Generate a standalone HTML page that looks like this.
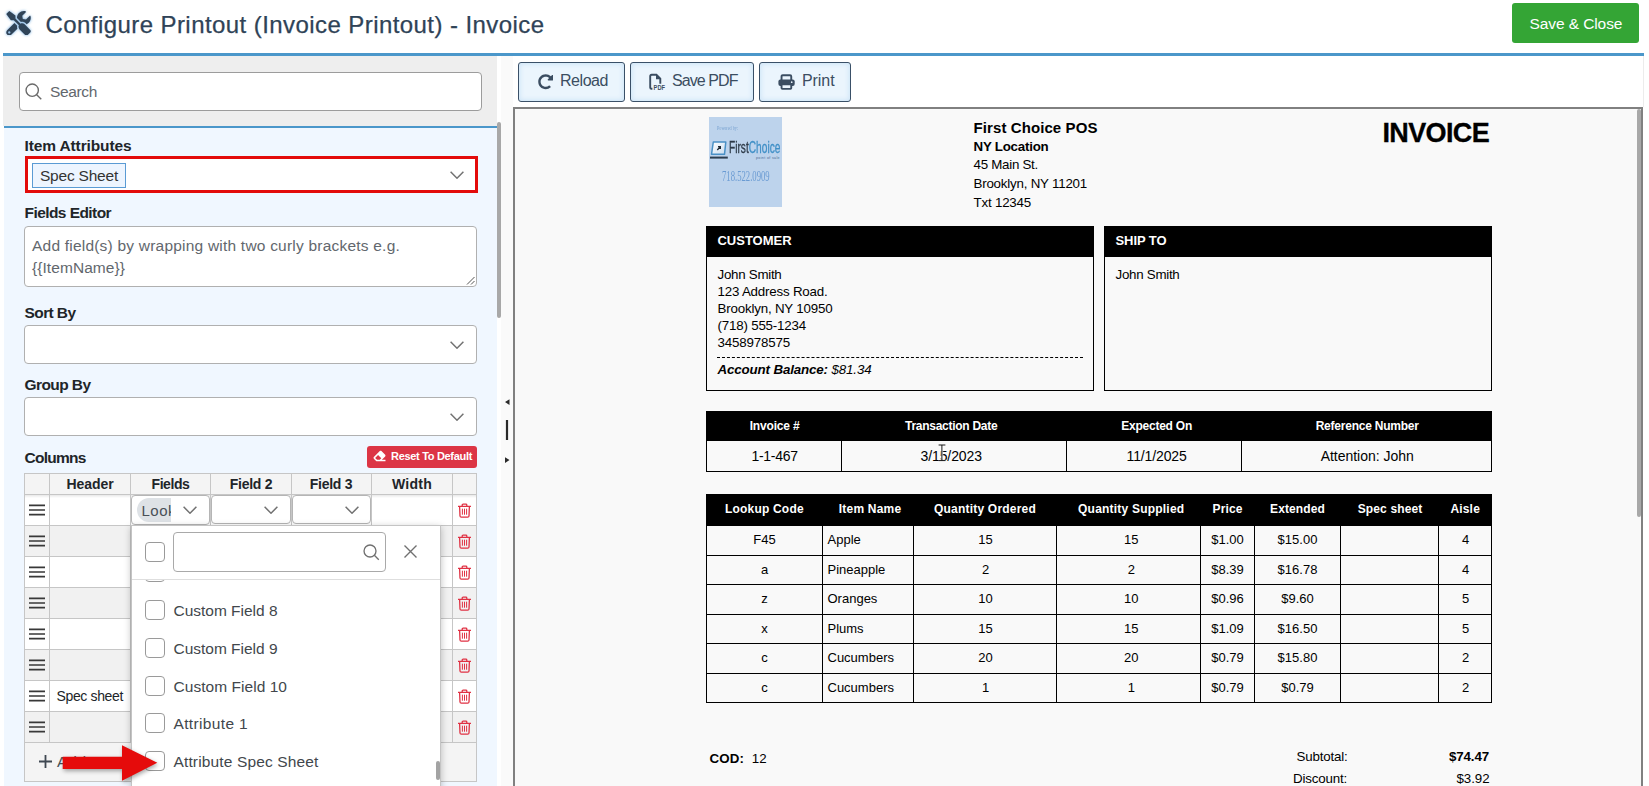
<!DOCTYPE html>
<html lang="en">
<head>
<meta charset="utf-8">
<title>Configure Printout (Invoice Printout) - Invoice</title>
<style>
*{box-sizing:border-box;}
html,body{margin:0;padding:0;}
body{width:1649px;height:786px;overflow:hidden;position:relative;background:#fff;
  font-family:"Liberation Sans",sans-serif;color:#212529;}
.abs{position:absolute;}
.t{position:absolute;white-space:nowrap;line-height:1;}
.b{font-weight:bold;}
/* top bar */
#saveclose{left:1512px;top:3px;width:127px;height:40px;background:#34a535;border-radius:3px;}
#topline{left:3px;top:53px;width:1641px;height:3px;background:#4b97ca;}
/* left panel */
#lpTop{left:3px;top:56px;width:494px;height:70px;background:#eeeeee;}
#lpLine{left:4px;top:126px;width:493px;height:2px;background:#4b97ca;}
#lpBody{left:4px;top:128px;width:493px;height:658px;background:#f0f7ff;}
#lpScroll{left:497px;top:122px;width:4px;height:196px;background:#a8a8a8;border-radius:2px;}
.inp{position:absolute;background:#fff;border:1px solid #b0b0b0;border-radius:4px;}
.chev{position:absolute;width:14px;height:8px;fill:none;stroke:#727272;stroke-width:1.5;}
/* grid */
.gl{position:absolute;background:#c4c4c4;}
.ham{position:absolute;width:17px;height:12px;}
.ham i{position:absolute;left:0;width:17px;height:1.800px;background:#333;}
.trash{position:absolute;width:13px;height:15px;fill:none;stroke:#e03143;stroke-width:1.3;}
.cb{position:absolute;width:20px;height:20px;border:1.5px solid #9a9a9a;border-radius:4px;background:#fff;}
/* right */
.btn{position:absolute;top:62px;height:40px;border:1px solid #3a5068;border-radius:3px;
  background:#ebf5fd;box-shadow:inset 0 0 5px 1px #cde4f7;}
#frame{left:513px;top:107px;width:1130px;height:700px;border:2px solid #808080;background:#f9f9f9;}
/* invoice */
.inv{font-family:"Liberation Sans",sans-serif;color:#000;}
.blk{position:absolute;background:#000;}
.bx{position:absolute;border:1px solid #000;}
.vl{position:absolute;width:1px;background:#000;}
.hl{position:absolute;height:1px;background:#000;}
.c{position:absolute;white-space:nowrap;line-height:1;text-align:center;color:#000;font-size:12px;}
.hc{position:absolute;white-space:nowrap;line-height:1;text-align:center;color:#fff;font-size:12px;font-weight:bold;}
</style>
</head>
<body>
<svg class="abs" style="left:5.800px;top:10.800px;width:25px;height:24.500px;filter:drop-shadow(0 0 1.500px rgba(80,150,215,.85));" viewBox="0 0 512 512"><path fill="#304458" d="M501.100 395.700L384 278.600c-23.100-23.100-57.600-27.600-85.400-13.900L192 158.100V96L64 0 0 64l96 128h62.100l106.600 106.600c-13.600 27.800-9.200 62.300 13.900 85.400l117.100 117.100c14.600 14.600 38.200 14.600 52.700 0l52.700-52.700c14.500-14.600 14.500-38.200 0-52.700zM331.700 225c28.300 0 54.900 11 74.900 31l19.400 19.400c15.800-6.900 30.800-16.500 43.800-29.500 37.100-37.100 49.700-89.300 37.900-136.700-2.200-9-13.500-12.100-20.100-5.500l-74.400 74.400-67.900-11.300L334 98.900l74.400-74.400c6.600-6.600 3.400-17.900-5.700-20.200-47.400-11.700-99.600.9-136.600 37.900-28.500 28.500-41.900 66.100-41.200 103.600l82.100 82.100c8.100-1.900 16.500-2.900 24.700-2.900zm-103.900 82l-56.700-56.700L18.700 402.800c-25 25-25 65.500 0 90.500s65.500 25 90.500 0l123.600-123.600c-7.600-19.900-9.900-41.600-5-62.700zM64 472c-13.200 0-24-10.800-24-24 0-13.300 10.700-24 24-24s24 10.700 24 24c0 13.200-10.700 24-24 24z"/></svg>
<div class="t" style="left:45.5px;top:13px;font-size:24px;color:#2f4357;letter-spacing:0.428px;-webkit-text-stroke:0.250px #2f4357;">Configure Printout (Invoice Printout) - Invoice</div>
<div class="t" style="left:1529.5px;top:15.7px;font-size:15.5px;color:#fff;letter-spacing:-0.089px;z-index:2;">Save &amp; Close</div>
<div id="saveclose" class="abs"></div>
<div id="topline" class="abs"></div>
<div id="lpTop" class="abs"></div>
<div id="lpLine" class="abs"></div>
<div id="lpBody" class="abs"></div>
<div id="lpScroll" class="abs"></div>
<div class="inp" style="left:19px;top:72px;width:463px;height:39px;border-color:#9c9c9c"></div>
<svg class="abs" style="left:25.3px;top:83.3px;width:17px;height:17px" viewBox="0 0 16 16" fill="none" stroke="#6a6a6a" stroke-width="1.3"><circle cx="6.800" cy="6.800" r="5.800"/><path d="M11 11 L15.300 15.300"/></svg>
<div class="t" style="left:50px;top:83.7px;font-size:15.5px;color:#62676d;letter-spacing:-0.354px;">Search</div>
<div class="t" style="left:24.5px;top:137.5px;font-size:15.5px;font-weight:bold;letter-spacing:-0.12px;">Item Attributes</div>
<div class="abs" style="left:25px;top:156px;width:453px;height:37.300px;border:3.600px solid #e30b0b;background:#fff;"></div>
<div class="abs" style="left:32px;top:163px;width:94px;height:25px;border:1px solid #5a9bd4;background:#edf5ff;"></div>
<div class="t" style="left:40px;top:168px;font-size:15.5px;color:#333;letter-spacing:-0.216px;">Spec Sheet</div>
<svg class="chev" style="left:450px;top:171px;width:14px;height:8px" viewBox="0 0 14 8"><path d="M0.600 0.800 L7 7.200 L13.400 0.800"/></svg>
<div class="t" style="left:24.5px;top:205px;font-size:15.5px;font-weight:bold;letter-spacing:-0.567px;">Fields Editor</div>
<div class="inp" style="left:24px;top:226px;width:453px;height:61px;"></div>
<div class="t" style="left:32px;top:237.5px;font-size:15.5px;color:#62676d;letter-spacing:0.214px;">Add field(s) by wrapping with two curly brackets e.g.</div>
<div class="t" style="left:32px;top:259.5px;font-size:15.5px;color:#62676d;letter-spacing:0.066px;">{{ItemName}}</div>
<svg class="abs" style="left:466px;top:276px;width:9px;height:9px" viewBox="0 0 9 9" stroke="#555" stroke-width="1"><path d="M8.500 1 L1 8.500 M8.500 5 L5 8.500"/></svg>
<div class="t" style="left:24.5px;top:304.5px;font-size:15.5px;font-weight:bold;letter-spacing:-0.589px;">Sort By</div>
<div class="inp" style="left:24px;top:325px;width:453px;height:39px;"></div>
<svg class="chev" style="left:450px;top:341px;width:14px;height:8px" viewBox="0 0 14 8"><path d="M0.600 0.800 L7 7.200 L13.400 0.800"/></svg>
<div class="t" style="left:24.5px;top:376.5px;font-size:15.5px;font-weight:bold;letter-spacing:-0.578px;">Group By</div>
<div class="inp" style="left:24px;top:397px;width:453px;height:39px;"></div>
<svg class="chev" style="left:450px;top:413px;width:14px;height:8px" viewBox="0 0 14 8"><path d="M0.600 0.800 L7 7.200 L13.400 0.800"/></svg>
<div class="t" style="left:24.5px;top:450px;font-size:15.5px;font-weight:bold;letter-spacing:-0.759px;">Columns</div>
<div class="abs" style="left:367px;top:446px;width:110px;height:22px;background:#dc3545;border-radius:3px;"></div>
<svg class="abs" style="left:373px;top:450.400px;width:13px;height:12px" viewBox="0 0 512 512"><path fill="#fff" d="M497.900 273.900c18.700-18.700 18.700-49.100 0-67.900l-160-160c-18.700-18.700-49.100-18.700-67.900 0l-256 256c-18.700 18.700-18.700 49.100 0 67.900l96 96A48 48 0 0 0 144 480h356c6.600 0 12-5.400 12-12v-40c0-6.600-5.400-12-12-12H355.900l142-142.100zm-302.600-62.600l137.400 137.400L265.400 416H150.600l-80-80 124.700-124.700z"/></svg>
<div class="t" style="left:391px;top:451px;font-size:11px;font-weight:bold;color:#fff;letter-spacing:-0.312px;">Reset To Default</div>
<div class="abs" style="left:24px;top:473px;width:453px;height:21px;background:#f4f4f4;"></div>
<div class="abs" style="left:24px;top:494px;width:453px;height:31px;background:#ffffff;"></div>
<div class="abs" style="left:24px;top:525px;width:453px;height:31px;background:#f1f1f1;"></div>
<div class="abs" style="left:24px;top:556px;width:453px;height:31px;background:#ffffff;"></div>
<div class="abs" style="left:24px;top:587px;width:453px;height:31px;background:#f1f1f1;"></div>
<div class="abs" style="left:24px;top:618px;width:453px;height:31px;background:#ffffff;"></div>
<div class="abs" style="left:24px;top:649px;width:453px;height:31px;background:#f1f1f1;"></div>
<div class="abs" style="left:24px;top:680px;width:453px;height:31px;background:#ffffff;"></div>
<div class="abs" style="left:24px;top:711px;width:453px;height:31px;background:#f1f1f1;"></div>
<div class="abs" style="left:24px;top:742px;width:453px;height:39.5px;background:#f4f4f4;"></div>
<div class="abs" style="left:24px;top:495px;width:453px;height:3px;background:linear-gradient(rgba(0,0,0,.09),rgba(0,0,0,0));"></div>
<div class="gl" style="left:24px;top:473px;width:453px;height:1px;background:#c6c6c6"></div>
<div class="gl" style="left:24px;top:494px;width:453px;height:1px;background:#c6c6c6"></div>
<div class="gl" style="left:24px;top:525px;width:453px;height:1px;background:#c6c6c6"></div>
<div class="gl" style="left:24px;top:556px;width:453px;height:1px;background:#c6c6c6"></div>
<div class="gl" style="left:24px;top:587px;width:453px;height:1px;background:#c6c6c6"></div>
<div class="gl" style="left:24px;top:618px;width:453px;height:1px;background:#c6c6c6"></div>
<div class="gl" style="left:24px;top:649px;width:453px;height:1px;background:#c6c6c6"></div>
<div class="gl" style="left:24px;top:680px;width:453px;height:1px;background:#c6c6c6"></div>
<div class="gl" style="left:24px;top:711px;width:453px;height:1px;background:#c6c6c6"></div>
<div class="gl" style="left:24px;top:742px;width:453px;height:1px;background:#c6c6c6"></div>
<div class="gl" style="left:24px;top:780.5px;width:453px;height:1px;background:#c6c6c6"></div>
<div class="gl" style="left:24px;top:473px;width:1px;height:308.5px;background:#c6c6c6"></div>
<div class="gl" style="left:476px;top:473px;width:1px;height:308.5px;background:#c6c6c6"></div>
<div class="gl" style="left:49.0px;top:473px;width:1px;height:269px;background:#c6c6c6"></div>
<div class="gl" style="left:130.0px;top:473px;width:1px;height:269px;background:#c6c6c6"></div>
<div class="gl" style="left:210.0px;top:473px;width:1px;height:269px;background:#c6c6c6"></div>
<div class="gl" style="left:291.0px;top:473px;width:1px;height:269px;background:#c6c6c6"></div>
<div class="gl" style="left:371.0px;top:473px;width:1px;height:269px;background:#c6c6c6"></div>
<div class="gl" style="left:452.0px;top:473px;width:1px;height:269px;background:#c6c6c6"></div>
<div class="t" style="left:66.5px;top:477.4px;font-size:14px;font-weight:bold;letter-spacing:-0.078px;">Header</div>
<div class="t" style="left:151.5px;top:477.4px;font-size:14px;font-weight:bold;letter-spacing:-0.411px;">Fields</div>
<div class="t" style="left:229.75px;top:477.4px;font-size:14px;font-weight:bold;letter-spacing:-0.266px;">Field 2</div>
<div class="t" style="left:309.75px;top:477.4px;font-size:14px;font-weight:bold;letter-spacing:-0.266px;">Field 3</div>
<div class="t" style="left:392.0px;top:477.4px;font-size:14px;font-weight:bold;letter-spacing:0.25px;">Width</div>
<svg class="abs" style="left:28.800px;top:503.0px;width:16.400px;height:14px" viewBox="0 0 16.400 14" stroke="#383838" stroke-width="1.700"><path d="M0 2.400 H16.400 M0 7 H16.400 M0 11.600 H16.400"/></svg>
<svg class="trash" style="left:458px;top:502.5px" viewBox="0 0 13 15"><path d="M0 3.300 H13 M4.200 3 V2 Q4.200 1.200 5.100 1.200 H7.900 Q8.800 1.200 8.800 2 V3 M1.600 3.500 L2 13 Q2.100 14.200 3.300 14.200 H9.700 Q10.900 14.200 11 13 L11.400 3.500"/><path d="M4.400 5.700 V11.700 M6.500 5.700 V11.700 M8.600 5.700 V11.700" stroke-width="1"/></svg>
<svg class="abs" style="left:28.800px;top:534.0px;width:16.400px;height:14px" viewBox="0 0 16.400 14" stroke="#383838" stroke-width="1.700"><path d="M0 2.400 H16.400 M0 7 H16.400 M0 11.600 H16.400"/></svg>
<svg class="trash" style="left:458px;top:533.5px" viewBox="0 0 13 15"><path d="M0 3.300 H13 M4.200 3 V2 Q4.200 1.200 5.100 1.200 H7.900 Q8.800 1.200 8.800 2 V3 M1.600 3.500 L2 13 Q2.100 14.200 3.300 14.200 H9.700 Q10.900 14.200 11 13 L11.400 3.500"/><path d="M4.400 5.700 V11.700 M6.500 5.700 V11.700 M8.600 5.700 V11.700" stroke-width="1"/></svg>
<svg class="abs" style="left:28.800px;top:565.0px;width:16.400px;height:14px" viewBox="0 0 16.400 14" stroke="#383838" stroke-width="1.700"><path d="M0 2.400 H16.400 M0 7 H16.400 M0 11.600 H16.400"/></svg>
<svg class="trash" style="left:458px;top:564.5px" viewBox="0 0 13 15"><path d="M0 3.300 H13 M4.200 3 V2 Q4.200 1.200 5.100 1.200 H7.900 Q8.800 1.200 8.800 2 V3 M1.600 3.500 L2 13 Q2.100 14.200 3.300 14.200 H9.700 Q10.900 14.200 11 13 L11.400 3.500"/><path d="M4.400 5.700 V11.700 M6.500 5.700 V11.700 M8.600 5.700 V11.700" stroke-width="1"/></svg>
<svg class="abs" style="left:28.800px;top:596.0px;width:16.400px;height:14px" viewBox="0 0 16.400 14" stroke="#383838" stroke-width="1.700"><path d="M0 2.400 H16.400 M0 7 H16.400 M0 11.600 H16.400"/></svg>
<svg class="trash" style="left:458px;top:595.5px" viewBox="0 0 13 15"><path d="M0 3.300 H13 M4.200 3 V2 Q4.200 1.200 5.100 1.200 H7.900 Q8.800 1.200 8.800 2 V3 M1.600 3.500 L2 13 Q2.100 14.200 3.300 14.200 H9.700 Q10.900 14.200 11 13 L11.400 3.500"/><path d="M4.400 5.700 V11.700 M6.500 5.700 V11.700 M8.600 5.700 V11.700" stroke-width="1"/></svg>
<svg class="abs" style="left:28.800px;top:627.0px;width:16.400px;height:14px" viewBox="0 0 16.400 14" stroke="#383838" stroke-width="1.700"><path d="M0 2.400 H16.400 M0 7 H16.400 M0 11.600 H16.400"/></svg>
<svg class="trash" style="left:458px;top:626.5px" viewBox="0 0 13 15"><path d="M0 3.300 H13 M4.200 3 V2 Q4.200 1.200 5.100 1.200 H7.900 Q8.800 1.200 8.800 2 V3 M1.600 3.500 L2 13 Q2.100 14.200 3.300 14.200 H9.700 Q10.900 14.200 11 13 L11.400 3.500"/><path d="M4.400 5.700 V11.700 M6.500 5.700 V11.700 M8.600 5.700 V11.700" stroke-width="1"/></svg>
<svg class="abs" style="left:28.800px;top:658.0px;width:16.400px;height:14px" viewBox="0 0 16.400 14" stroke="#383838" stroke-width="1.700"><path d="M0 2.400 H16.400 M0 7 H16.400 M0 11.600 H16.400"/></svg>
<svg class="trash" style="left:458px;top:657.5px" viewBox="0 0 13 15"><path d="M0 3.300 H13 M4.200 3 V2 Q4.200 1.200 5.100 1.200 H7.900 Q8.800 1.200 8.800 2 V3 M1.600 3.500 L2 13 Q2.100 14.200 3.300 14.200 H9.700 Q10.900 14.200 11 13 L11.400 3.500"/><path d="M4.400 5.700 V11.700 M6.500 5.700 V11.700 M8.600 5.700 V11.700" stroke-width="1"/></svg>
<svg class="abs" style="left:28.800px;top:689.0px;width:16.400px;height:14px" viewBox="0 0 16.400 14" stroke="#383838" stroke-width="1.700"><path d="M0 2.400 H16.400 M0 7 H16.400 M0 11.600 H16.400"/></svg>
<svg class="trash" style="left:458px;top:688.5px" viewBox="0 0 13 15"><path d="M0 3.300 H13 M4.200 3 V2 Q4.200 1.200 5.100 1.200 H7.900 Q8.800 1.200 8.800 2 V3 M1.600 3.500 L2 13 Q2.100 14.200 3.300 14.200 H9.700 Q10.900 14.200 11 13 L11.400 3.500"/><path d="M4.400 5.700 V11.700 M6.500 5.700 V11.700 M8.600 5.700 V11.700" stroke-width="1"/></svg>
<svg class="abs" style="left:28.800px;top:720.0px;width:16.400px;height:14px" viewBox="0 0 16.400 14" stroke="#383838" stroke-width="1.700"><path d="M0 2.400 H16.400 M0 7 H16.400 M0 11.600 H16.400"/></svg>
<svg class="trash" style="left:458px;top:719.5px" viewBox="0 0 13 15"><path d="M0 3.300 H13 M4.200 3 V2 Q4.200 1.200 5.100 1.200 H7.900 Q8.800 1.200 8.800 2 V3 M1.600 3.500 L2 13 Q2.100 14.200 3.300 14.200 H9.700 Q10.900 14.200 11 13 L11.400 3.500"/><path d="M4.400 5.700 V11.700 M6.500 5.700 V11.700 M8.600 5.700 V11.700" stroke-width="1"/></svg>
<div class="inp" style="left:131px;top:495px;width:78.5px;height:30px;border-color:#b5b5b5;border-radius:4px;"></div>
<div class="inp" style="left:211px;top:495px;width:79.5px;height:29px;border-color:#b5b5b5;border-radius:4px;"></div>
<div class="inp" style="left:292px;top:495px;width:78.5px;height:29px;border-color:#b5b5b5;border-radius:4px;"></div>
<div class="abs" style="left:136.500px;top:498px;width:34.300px;height:24px;background:#dee2e6;border-radius:12px 0 0 12px;overflow:hidden;"></div>
<div class="abs" style="left:141.500px;top:498px;width:29.300px;height:24px;overflow:hidden;"><div class="t" style="left:0;top:5.300px;font-size:15px;color:#495057;letter-spacing:0.500px">Look</div></div>
<svg class="chev" style="left:182.6px;top:505.9px;width:14px;height:8px" viewBox="0 0 14 8"><path d="M0.600 0.800 L7 7.200 L13.400 0.800"/></svg>
<svg class="chev" style="left:264px;top:505.7px;width:14px;height:8px" viewBox="0 0 14 8"><path d="M0.600 0.800 L7 7.200 L13.400 0.800"/></svg>
<svg class="chev" style="left:344.5px;top:505.7px;width:14px;height:8px" viewBox="0 0 14 8"><path d="M0.600 0.800 L7 7.200 L13.400 0.800"/></svg>
<div class="t" style="left:56.5px;top:688.8px;font-size:14px;letter-spacing:-0.356px;">Spec sheet</div>
<svg class="abs" style="left:39px;top:755px;width:13px;height:13px" viewBox="0 0 13 13" stroke="#3f4852" stroke-width="1.800"><path d="M6.500 0 V13 M0 6.500 H13"/></svg>
<div class="t" style="left:57px;top:754px;font-size:15.5px;color:#495057;letter-spacing:0.802px;">Add</div>
<div class="abs" style="left:131px;top:525px;width:309.500px;height:270px;background:#fff;border:1px solid #c4c4c4;box-shadow:0 2px 7px rgba(0,0,0,.25);"></div>
<div class="cb" style="left:145px;top:542px"></div>
<div class="inp" style="left:173px;top:532px;width:213px;height:40px;border-color:#a9a9a9"></div>
<svg class="abs" style="left:363px;top:544px;width:16.5px;height:16.5px" viewBox="0 0 16 16" fill="none" stroke="#707070" stroke-width="1.3"><circle cx="6.800" cy="6.800" r="5.800"/><path d="M11 11 L15.300 15.300"/></svg>
<svg class="abs" style="left:403.500px;top:545.400px;width:13px;height:13px" viewBox="0 0 13 13" stroke="#707070" stroke-width="1.400"><path d="M0.500 0.500 L12.500 12.500 M12.500 0.500 L0.500 12.500"/></svg>
<div class="abs" style="left:132px;top:579px;width:307.500px;height:207px;overflow:hidden;border-top:1px solid #dedede;background:#fff;">
<div class="cb" style="left:13px;top:-18px"></div>
</div>
<div class="cb" style="left:145px;top:600.0px"></div>
<div class="t" style="left:173.5px;top:603.1px;font-size:15.5px;color:#42474c;letter-spacing:-0.017px;">Custom Field 8</div>
<div class="cb" style="left:145px;top:637.75px"></div>
<div class="t" style="left:173.5px;top:640.85px;font-size:15.5px;color:#42474c;letter-spacing:-0.017px;">Custom Field 9</div>
<div class="cb" style="left:145px;top:675.5px"></div>
<div class="t" style="left:173.5px;top:678.6px;font-size:15.5px;color:#42474c;letter-spacing:0.043px;">Custom Field 10</div>
<div class="cb" style="left:145px;top:713.25px"></div>
<div class="t" style="left:173.5px;top:716.35px;font-size:15.5px;color:#42474c;letter-spacing:0.349px;">Attribute 1</div>
<div class="cb" style="left:145px;top:751.0px"></div>
<div class="t" style="left:173.5px;top:754.1px;font-size:15.5px;color:#42474c;letter-spacing:0.141px;">Attribute Spec Sheet</div>
<div class="abs" style="left:436.200px;top:761px;width:3.700px;height:19px;background:#a3a3a3;border-radius:2px;"></div>
<svg class="abs" style="left:55px;top:735px;width:115px;height:51px;overflow:visible;filter:drop-shadow(1.500px 2px 2px rgba(0,0,0,.35));" viewBox="0 0 115 51"><path fill="#e50b0b" d="M7.700 21.700 H67 V10.300 L102.300 27.700 L67 45.700 V34 H7.700 Z"/></svg>
<div class="btn" style="left:518px;width:107px"></div>
<div class="btn" style="left:630px;width:124px"></div>
<div class="btn" style="left:759px;width:92px"></div>
<svg class="abs" style="left:537.600px;top:74.200px;width:15.400px;height:15.400px" viewBox="0 0 512 512"><path fill="#3b4d61" d="M256.455 8c66.269.119 126.437 26.233 170.859 68.685l35.715-35.715C478.149 25.851 504 36.559 504 57.941V192c0 13.255-10.745 24-24 24H345.941c-21.382 0-32.090-25.851-16.971-40.971l41.750-41.750c-30.864-28.899-70.801-44.907-113.230-45.273-92.398-.798-170.283 73.977-169.484 169.442C88.764 348.009 162.184 424 256 424c41.127 0 79.997-14.678 110.629-41.556 4.743-4.161 11.906-3.908 16.368.553l39.662 39.662c4.872 4.872 4.631 12.815-.482 17.433C378.202 479.813 319.926 504 256 504 119.034 504 8.001 392.967 8 256.002 7.999 119.193 119.646 7.755 256.455 8z"/></svg>
<div class="t" style="left:560px;top:73.2px;font-size:16px;color:#3b4d61;letter-spacing:-0.451px;">Reload</div>
<svg class="abs" style="left:648px;top:73.300px;width:18px;height:18px;overflow:visible" viewBox="0 0 18 18"><path d="M4.400 15.800 H3.600 Q2.200 15.800 2.200 14.400 V3.200 Q2.200 1.800 3.600 1.800 H8.400 L12.300 5.700 V10.800" fill="none" stroke="#3b4d61" stroke-width="1.900"/><path d="M8 1.800 H8.600 L12.400 5.600 V6.300 H8 Z" fill="#3b4d61"/><text x="5.600" y="16.800" font-family="Liberation Sans, sans-serif" font-weight="bold" font-size="6.600" fill="#3b4d61" textLength="11.400" lengthAdjust="spacingAndGlyphs">PDF</text></svg>
<div class="t" style="left:672px;top:73.2px;font-size:16px;color:#3b4d61;letter-spacing:-0.928px;">Save PDF</div>
<svg class="abs" style="left:778px;top:74px;width:17px;height:16px" viewBox="0 0 17 16"><path d="M3.550 6.500 V2.400 Q3.550 1.200 4.750 1.200 H12.050 Q13.250 1.200 13.250 2.400 V6.500" fill="none" stroke="#3b4d61" stroke-width="1.900"/><rect x="0.400" y="5.600" width="16.300" height="6.400" rx="2" fill="#3b4d61"/><rect x="3.550" y="10.200" width="9.700" height="4.700" rx="0.800" fill="#ebf5fd" stroke="#3b4d61" stroke-width="1.900"/><circle cx="13.700" cy="8.200" r="0.850" fill="#ebf5fd"/></svg>
<div class="t" style="left:802px;top:73.2px;font-size:16px;color:#3b4d61;letter-spacing:-0.081px;">Print</div>
<div class="abs" style="left:501px;top:56px;width:12px;height:730px;background:#fafafa;"></div>
<svg class="abs" style="left:503px;top:395px;width:9px;height:70px" viewBox="0 0 9 70"><path d="M6.500 4.200 V10 L2 7.100 Z M2 62.200 V68 L6.500 65.100 Z" fill="#2a2a2a"/><path d="M4 25 V45" stroke="#2a2a2a" stroke-width="2.200"/></svg>
<div class="abs" style="left:1643px;top:56px;width:1px;height:51px;background:#ececec;"></div>
<div id="frame" class="abs"></div>
<div class="abs" style="left:1637px;top:109px;width:4px;height:408px;background:#a8a8a8;border-radius:2px;"></div>
<div class="abs" style="left:709px;top:117px;width:73px;height:90px;background:#bdd3ec;overflow:hidden;"><div class="t" style="left:8px;top:8.100px;font-size:6px;font-family:'Liberation Serif',serif;color:#7ba4d2;transform:scaleX(.7);transform-origin:0 0;">Powered by:</div><svg class="abs" style="left:0.600px;top:23.700px;width:18px;height:18px" viewBox="0 0 18 18"><defs><linearGradient id="lg" x1="0" y1="0" x2="1" y2="1"><stop offset="0" stop-color="#ffffff"/><stop offset="1" stop-color="#c9dcef"/></linearGradient></defs><path d="M3.300 1 H15.800 L14.500 13.300 H1.500 Z" fill="url(#lg)" stroke="#4a90c5" stroke-width="1.500" stroke-linejoin="round"/><path d="M0 16.600 H17.800" stroke="#2c3e50" stroke-width="2"/><path d="M7.300 9 L10 6 M8 5.600 H10.400 V8" stroke="#1d2731" stroke-width="1.200" fill="none"/></svg><div class="t" style="left:19.700px;top:22.800px;font-size:16px;color:#2d3a48;transform:scaleX(.635);transform-origin:0 0;-webkit-text-stroke:0.300px currentColor;">First<span style="color:#3f8fc6">Choice</span></div><div class="t" style="left:47px;top:39.800px;font-size:3.600px;letter-spacing:.35px;color:#4a6d92;">point of sale</div><div class="t" style="left:12.600px;top:52px;font-size:14.500px;font-family:'Liberation Serif',serif;color:#6a9bd3;transform:scaleX(.597);transform-origin:0 0;">718.522.0909</div></div>
<div class="t" style="left:973.5px;top:120px;font-size:15px;font-weight:bold;color:#000;letter-spacing:0.092px;">First Choice POS</div>
<div class="t" style="left:973.5px;top:139.5px;font-size:13.33px;font-weight:bold;color:#000;letter-spacing:-0.229px;">NY Location</div>
<div class="t" style="left:973.5px;top:158.2px;font-size:13.33px;color:#000;letter-spacing:-0.266px;">45 Main St.</div>
<div class="t" style="left:973.5px;top:177px;font-size:13.33px;color:#000;letter-spacing:-0.212px;">Brooklyn, NY 11201</div>
<div class="t" style="left:973.5px;top:195.5px;font-size:13.33px;color:#000;letter-spacing:-0.198px;">Txt 12345</div>
<div class="t" style="left:1382.5px;top:120.4px;font-size:27px;font-weight:bold;color:#000;letter-spacing:-0.647px;-webkit-text-stroke:0.300px #000;">INVOICE</div>
<div class="bx" style="left:706px;top:226px;width:388px;height:165px;"></div>
<div class="blk" style="left:706px;top:226px;width:388px;height:31px;"></div>
<div class="t" style="left:717.5px;top:233.5px;font-size:13px;font-weight:bold;color:#fff;letter-spacing:-0.02px;">CUSTOMER</div>
<div class="bx" style="left:1104px;top:226px;width:388px;height:165px;"></div>
<div class="blk" style="left:1104px;top:226px;width:388px;height:31px;"></div>
<div class="t" style="left:1115.5px;top:233.5px;font-size:13px;font-weight:bold;color:#fff;letter-spacing:-0.078px;">SHIP TO</div>
<div class="t" style="left:717.5px;top:267.7px;font-size:13.33px;color:#000;letter-spacing:-0.269px;">John Smith</div>
<div class="t" style="left:717.5px;top:284.7px;font-size:13.33px;color:#000;letter-spacing:-0.199px;">123 Address Road.</div>
<div class="t" style="left:717.5px;top:301.7px;font-size:13.33px;color:#000;letter-spacing:-0.184px;">Brooklyn, NY 10950</div>
<div class="t" style="left:717.5px;top:318.7px;font-size:13.33px;color:#000;letter-spacing:-0.19px;">(718) 555-1234</div>
<div class="t" style="left:717.5px;top:335.7px;font-size:13.33px;color:#000;letter-spacing:-0.163px;">3458978575</div>
<div class="t" style="left:1115.5px;top:267.7px;font-size:13.33px;color:#000;letter-spacing:-0.269px;">John Smith</div>
<div class="abs" style="left:717px;top:357px;width:366px;height:0;border-top:1px dashed #000;"></div>
<div class="t" style="left:717.5px;top:363.4px;font-size:13.33px;color:#000;letter-spacing:-0.135px;font-style:italic;"><b>Account Balance:</b> $81.34</div>
<div class="bx" style="left:706px;top:411px;width:786px;height:61px;"></div>
<div class="blk" style="left:706px;top:411px;width:786px;height:30px;"></div>
<div class="vl" style="left:841px;top:441px;height:30px;"></div>
<div class="vl" style="left:1066px;top:441px;height:30px;"></div>
<div class="vl" style="left:1241px;top:441px;height:30px;"></div>
<div class="t" style="left:749.7px;top:419.5px;font-size:12px;font-weight:bold;color:#fff;letter-spacing:-0.173px;">Invoice #</div>
<div class="t" style="left:751.4px;top:448.7px;font-size:14px;color:#000;letter-spacing:-0.267px;">1-1-467</div>
<div class="t" style="left:905.0px;top:419.5px;font-size:12px;font-weight:bold;color:#fff;letter-spacing:-0.269px;">Transaction Date</div>
<div class="t" style="left:920.5px;top:448.7px;font-size:14px;color:#000;letter-spacing:-0.1px;">3/15/2023</div>
<div class="t" style="left:1121.2px;top:419.5px;font-size:12px;font-weight:bold;color:#fff;letter-spacing:-0.233px;">Expected On</div>
<div class="t" style="left:1126.5px;top:448.7px;font-size:14px;color:#000;letter-spacing:-0.117px;">11/1/2025</div>
<div class="t" style="left:1315.65px;top:419.5px;font-size:12px;font-weight:bold;color:#fff;letter-spacing:-0.226px;">Reference Number</div>
<div class="t" style="left:1320.65px;top:448.7px;font-size:14px;color:#000;letter-spacing:-0.02px;">Attention: John</div>
<div class="bx" style="left:706px;top:494px;width:786px;height:209.0px;"></div>
<div class="blk" style="left:706px;top:494px;width:786px;height:31.500px;"></div>
<div class="vl" style="left:822.0px;top:525px;height:177.5px;"></div>
<div class="vl" style="left:913.0px;top:525px;height:177.5px;"></div>
<div class="vl" style="left:1056.0px;top:525px;height:177.5px;"></div>
<div class="vl" style="left:1200.0px;top:525px;height:177.5px;"></div>
<div class="vl" style="left:1254.0px;top:525px;height:177.5px;"></div>
<div class="vl" style="left:1340.0px;top:525px;height:177.5px;"></div>
<div class="vl" style="left:1438.0px;top:525px;height:177.5px;"></div>
<div class="hl" style="left:706px;top:554.5px;width:786px;"></div>
<div class="hl" style="left:706px;top:584.0px;width:786px;"></div>
<div class="hl" style="left:706px;top:613.5px;width:786px;"></div>
<div class="hl" style="left:706px;top:643.0px;width:786px;"></div>
<div class="hl" style="left:706px;top:673.0px;width:786px;"></div>
<div class="t" style="left:725.0px;top:502.6px;font-size:12px;font-weight:bold;color:#fff;letter-spacing:0.193px;">Lookup Code</div>
<div class="t" style="left:838.8px;top:502.6px;font-size:12px;font-weight:bold;color:#fff;letter-spacing:0.211px;">Item Name</div>
<div class="t" style="left:934.05px;top:502.6px;font-size:12px;font-weight:bold;color:#fff;letter-spacing:0.201px;">Quantity Ordered</div>
<div class="t" style="left:1078.05px;top:502.6px;font-size:12px;font-weight:bold;color:#fff;letter-spacing:0.213px;">Quantity Supplied</div>
<div class="t" style="left:1212.55px;top:502.6px;font-size:12px;font-weight:bold;color:#fff;letter-spacing:0.108px;">Price</div>
<div class="t" style="left:1270.05px;top:502.6px;font-size:12px;font-weight:bold;color:#fff;letter-spacing:0.111px;">Extended</div>
<div class="t" style="left:1357.7px;top:502.6px;font-size:12px;font-weight:bold;color:#fff;letter-spacing:0.142px;">Spec sheet</div>
<div class="t" style="left:1450.4px;top:502.6px;font-size:12px;font-weight:bold;color:#fff;letter-spacing:0.183px;">Aisle</div>
<div class="c" style="left:714.5px;top:532.9px;width:100px;font-size:13px;">F45</div>
<div class="c" style="left:827.5px;top:532.9px;text-align:left;font-size:13px;">Apple</div>
<div class="c" style="left:935.6px;top:532.9px;width:100px;font-size:13px;">15</div>
<div class="c" style="left:1081.3px;top:532.9px;width:100px;font-size:13px;">15</div>
<div class="c" style="left:1177.5px;top:532.9px;width:100px;font-size:13px;">$1.00</div>
<div class="c" style="left:1247.5px;top:532.9px;width:100px;font-size:13px;">$15.00</div>
<div class="c" style="left:1415.5px;top:532.9px;width:100px;font-size:13px;">4</div>
<div class="c" style="left:714.5px;top:562.9px;width:100px;font-size:13px;">a</div>
<div class="c" style="left:827.5px;top:562.9px;text-align:left;font-size:13px;">Pineapple</div>
<div class="c" style="left:935.6px;top:562.9px;width:100px;font-size:13px;">2</div>
<div class="c" style="left:1081.3px;top:562.9px;width:100px;font-size:13px;">2</div>
<div class="c" style="left:1177.5px;top:562.9px;width:100px;font-size:13px;">$8.39</div>
<div class="c" style="left:1247.5px;top:562.9px;width:100px;font-size:13px;">$16.78</div>
<div class="c" style="left:1415.5px;top:562.9px;width:100px;font-size:13px;">4</div>
<div class="c" style="left:714.5px;top:591.6999999999999px;width:100px;font-size:13px;">z</div>
<div class="c" style="left:827.5px;top:591.6999999999999px;text-align:left;font-size:13px;">Oranges</div>
<div class="c" style="left:935.6px;top:591.6999999999999px;width:100px;font-size:13px;">10</div>
<div class="c" style="left:1081.3px;top:591.6999999999999px;width:100px;font-size:13px;">10</div>
<div class="c" style="left:1177.5px;top:591.6999999999999px;width:100px;font-size:13px;">$0.96</div>
<div class="c" style="left:1247.5px;top:591.6999999999999px;width:100px;font-size:13px;">$9.60</div>
<div class="c" style="left:1415.5px;top:591.6999999999999px;width:100px;font-size:13px;">5</div>
<div class="c" style="left:714.5px;top:621.6999999999999px;width:100px;font-size:13px;">x</div>
<div class="c" style="left:827.5px;top:621.6999999999999px;text-align:left;font-size:13px;">Plums</div>
<div class="c" style="left:935.6px;top:621.6999999999999px;width:100px;font-size:13px;">15</div>
<div class="c" style="left:1081.3px;top:621.6999999999999px;width:100px;font-size:13px;">15</div>
<div class="c" style="left:1177.5px;top:621.6999999999999px;width:100px;font-size:13px;">$1.09</div>
<div class="c" style="left:1247.5px;top:621.6999999999999px;width:100px;font-size:13px;">$16.50</div>
<div class="c" style="left:1415.5px;top:621.6999999999999px;width:100px;font-size:13px;">5</div>
<div class="c" style="left:714.5px;top:650.9px;width:100px;font-size:13px;">c</div>
<div class="c" style="left:827.5px;top:650.9px;text-align:left;font-size:13px;">Cucumbers</div>
<div class="c" style="left:935.6px;top:650.9px;width:100px;font-size:13px;">20</div>
<div class="c" style="left:1081.3px;top:650.9px;width:100px;font-size:13px;">20</div>
<div class="c" style="left:1177.5px;top:650.9px;width:100px;font-size:13px;">$0.79</div>
<div class="c" style="left:1247.5px;top:650.9px;width:100px;font-size:13px;">$15.80</div>
<div class="c" style="left:1415.5px;top:650.9px;width:100px;font-size:13px;">2</div>
<div class="c" style="left:714.5px;top:680.9px;width:100px;font-size:13px;">c</div>
<div class="c" style="left:827.5px;top:680.9px;text-align:left;font-size:13px;">Cucumbers</div>
<div class="c" style="left:935.6px;top:680.9px;width:100px;font-size:13px;">1</div>
<div class="c" style="left:1081.3px;top:680.9px;width:100px;font-size:13px;">1</div>
<div class="c" style="left:1177.5px;top:680.9px;width:100px;font-size:13px;">$0.79</div>
<div class="c" style="left:1247.5px;top:680.9px;width:100px;font-size:13px;">$0.79</div>
<div class="c" style="left:1415.5px;top:680.9px;width:100px;font-size:13px;">2</div>
<div class="t" style="left:709.5px;top:752.2px;font-size:13.33px;color:#000;letter-spacing:0.135px;"><b>COD:</b>&nbsp; 12</div>
<div class="t" style="left:1296.5px;top:750.2px;font-size:13.33px;color:#000;letter-spacing:-0.181px;">Subtotal:</div>
<div class="t" style="left:1449px;top:750.2px;font-size:13.33px;font-weight:bold;color:#000;letter-spacing:-0.128px;">$74.47</div>
<div class="t" style="left:1293px;top:772.2px;font-size:13.33px;color:#000;letter-spacing:-0.174px;">Discount:</div>
<div class="t" style="left:1456.5px;top:772.2px;font-size:13.33px;color:#000;letter-spacing:-0.072px;">$3.92</div>
<svg class="abs" style="left:937.600px;top:443.500px;width:8px;height:18px" viewBox="0 0 8 18" fill="none"><path d="M0.600 1 H7.400 M3.900 1 V16.600 M0.600 16.600 H7.400" stroke="#fff" stroke-width="2.600" opacity=".75"/><path d="M0.600 1 H7.400 M3.900 1 V16.600 M0.600 16.600 H7.400" stroke="#151515" stroke-width="1"/></svg>
</body>
</html>
